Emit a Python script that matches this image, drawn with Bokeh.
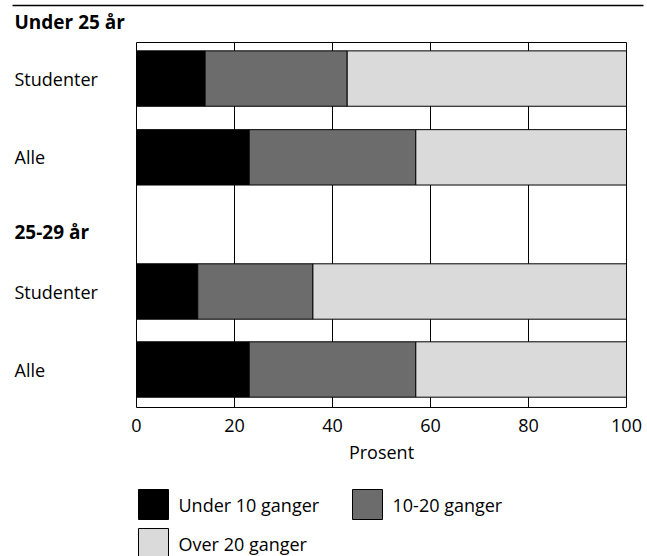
from bokeh.plotting import figure
from bokeh.core.properties import value
from bokeh.embed import file_html
from bokeh.resources import INLINE

# ---- data ----
groups = ["Under 25 år", "25-29 år"]
bar_labels = ["Studenter", "Alle", "Studenter", "Alle"]
under10 = [14, 23, 12.5, 23]
mid1020 = [29, 34, 23.5, 34]
over20 = [57, 43, 64, 43]
series_names = ["Under 10 ganger", "10-20 ganger", "Over 20 ganger"]
x_ticks = [0, 20, 40, 60, 80, 100]
x_title = "Prosent"

# ---- layout (pixel geometry of the page) ----
W, H = 647, 556
BOX_TOP_PX, BOX_BOTTOM_PX = 42, 407
X0_PX, X100_PX = 136, 626      # pixel position of the first and last tick
ROW_PX = 78.0                  # pixels per y unit
Y0_PX = 369                    # pixel row of y = 0

px_per_x = (X100_PX - X0_PX) / (x_ticks[-1] - x_ticks[0])


def dx(px):
    return x_ticks[0] + (px - X0_PX) / px_per_x


def dy(py):
    return (Y0_PX - py) / ROW_PX


bar_y = [3.73, 2.72, 1.0, 0.0]
group_y = [dy(21), 1.76]
bar_h = 0.71
FONT = "Open Sans"
colors = ["#000000", "#6c6c6c", "#dadada"]
LABEL_X = dx(14)

# legend geometry (pixels): swatch left/top for each item, swatch size
leg_px = [(138, 489), (352, 489), (138, 528)]
SW = 30

p = figure(width=W, height=H, x_range=(dx(0), dx(W)), y_range=(dy(H), dy(0)),
           title=None, output_backend="svg", toolbar_location=None,
           min_border_left=0, min_border_right=0, min_border_top=0, min_border_bottom=0)
p.outline_line_color = None
p.grid.visible = False
p.axis.visible = False

box_bottom = dy(BOX_BOTTOM_PX)
box_top = dy(BOX_TOP_PX)

# top rule
p.segment(x0=[dx(12)], x1=[dx(643)], y0=[dy(5)], y1=[dy(5)], line_color="black", line_width=1.5)

# vertical grid lines inside the plot box
inner = x_ticks[1:-1]
p.segment(x0=inner, x1=inner, y0=[box_bottom] * len(inner), y1=[box_top] * len(inner),
          line_color="black", line_width=1)

left1 = [0] * len(under10)
right1 = under10
right2 = [a + b for a, b in zip(under10, mid1020)]
right3 = [a + b for a, b in zip(right2, over20)]

for (l, r), c in zip([(left1, right1), (right1, right2), (right2, right3)], colors):
    p.hbar(y=bar_y, left=l, right=r, height=bar_h, fill_color=c,
           line_color="black", line_width=1)

# plot box
p.quad(left=[x_ticks[0]], right=[x_ticks[-1]], bottom=[box_bottom], top=[box_top],
       fill_color=None, line_color="black", line_width=1)

# group headings and row labels
p.text(x=[LABEL_X] * len(groups), y=group_y, text=groups, text_font=value(FONT),
       text_font_size="19px", text_font_style="bold", text_baseline="middle",
       text_align="left", text_color="black")
p.text(x=[LABEL_X] * len(bar_labels), y=bar_y, text=bar_labels, text_font=value(FONT),
       text_font_size="18px", text_baseline="middle", text_align="left", text_color="black")

# x tick labels and axis title
p.text(x=x_ticks, y=[dy(425)] * len(x_ticks), text=[str(t) for t in x_ticks],
       text_font=value(FONT), text_font_size="18px", text_baseline="middle",
       text_align="center", text_color="black")
p.text(x=[(x_ticks[0] + x_ticks[-1]) / 2], y=[dy(451)], text=[x_title],
       text_font=value(FONT), text_font_size="18px", text_baseline="middle",
       text_align="center", text_color="black")

# legend
p.quad(left=[dx(lx) for lx, ly in leg_px], right=[dx(lx + SW) for lx, ly in leg_px],
       top=[dy(ly) for lx, ly in leg_px], bottom=[dy(ly + SW) for lx, ly in leg_px],
       fill_color=colors, line_color="black", line_width=1)
p.text(x=[dx(lx + SW + 10) for lx, ly in leg_px], y=[dy(ly + SW / 2) for lx, ly in leg_px],
       text=series_names, text_font=value(FONT), text_font_size="18px",
       text_baseline="middle", text_align="left", text_color="black")

open("out.html", "w").write(file_html(p, INLINE))
